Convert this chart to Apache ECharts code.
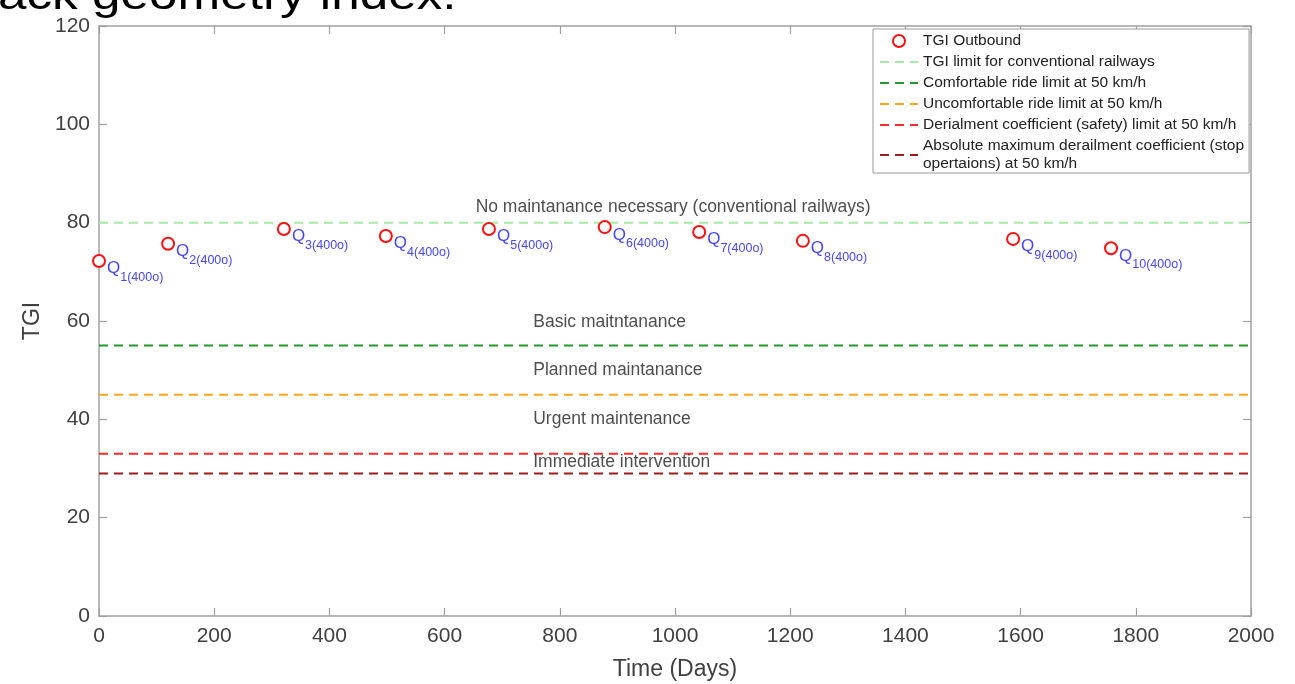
<!DOCTYPE html>
<html>
<head>
<meta charset="utf-8">
<script src="https://cdn.jsdelivr.net/npm/echarts@6/dist/echarts.min.js"></script>
<style>
html,body{margin:0;padding:0;background:#fff;}
#chart{width:1295px;height:684px;}
</style>
</head>
<body>
<div id="chart"></div>
<script>
// ---- data ----
const days = [0, 120, 321, 498, 677, 878, 1042, 1222, 1587, 1757];
const tgi = [72.2, 75.7, 78.7, 77.3, 78.7, 79.1, 78.1, 76.3, 76.7, 74.8];
const pointSubs = ['1(400o)','2(400o)','3(400o)','4(400o)','5(400o)','6(400o)','7(400o)','8(400o)','9(400o)','10(400o)'];
const limitNames = [
  'TGI limit for conventional railways',
  'Comfortable ride limit at 50 km/h',
  'Uncomfortable ride limit at 50 km/h',
  'Derialment coefficient (safety) limit at 50 km/h',
  'Absolute maximum derailment coefficient (stop\nopertaions) at 50 km/h'
];
const limitValues = [80, 55, 45, 33, 29];
const limitColors = ['#a6eaa6', '#22992a', '#ffa61a', '#ff2a2a', '#9e1c1c'];
const zoneLabels = [
  'No maintanance necessary (conventional railways)',
  'Basic maitntanance',
  'Planned maintanance',
  'Urgent maintenance',
  'Immediate intervention'
];
const zoneX = [653, 753, 753, 753, 753];
const zoneY = [83.2, 59.8, 50.0, 40.1, 31.3];
const xTicks = [0, 2000, 200];
const yTicks = [0, 120, 20];

const chart = echarts.init(document.getElementById('chart'));
const axisCol = '#a0a0a0';
const labelCol = '#404040';
const FONT = 'Liberation Sans, Arial, sans-serif';

const series = [];
series.push({
  name: 'TGI Outbound',
  type: 'scatter',
  data: days.map((d, i) => [d, tgi[i]]),
  symbol: 'emptyCircle',
  symbolSize: 12,
  itemStyle: {color: '#ff1010', borderColor: '#ff1010', borderWidth: 2.6, opacity: 1},
  z: 5,
  label: {
    show: true,
    position: 'right',
    distance: 1,
    offset: [0, 11],
    formatter: p => '{q|Q}{s|' + pointSubs[p.dataIndex] + '}',
    rich: {
      q: {fontSize: 17, color: '#4646ff', fontFamily: FONT, lineHeight: 16, verticalAlign: 'top'},
      s: {fontSize: 12.5, color: '#4646ff', fontFamily: FONT, lineHeight: 23.5, verticalAlign: 'bottom'}
    }
  }
});
limitNames.forEach((n, i) => {
  series.push({
    name: n,
    type: 'line',
    data: [[xTicks[0], limitValues[i]], [xTicks[1], limitValues[i]]],
    symbol: 'none',
    lineStyle: {color: limitColors[i], width: 2, type: [9, 6]},
    itemStyle: {color: limitColors[i]},
    silent: true,
    z: 3
  });
});
series.push({
  name: 'zones',
  type: 'scatter',
  xAxisIndex: 1,
  yAxisIndex: 1,
  data: zoneLabels.map((t, i) => ({name: t, value: [zoneX[i], zoneY[i]]})),
  symbolSize: 1,
  itemStyle: {color: 'rgba(0,0,0,0)'},
  silent: true,
  z: 6,
  label: {
    show: true, position: 'right', distance: 0,
    formatter: p => p.name,
    color: '#222', fontSize: 17.5, fontFamily: FONT
  }
});

const tickStyle = {show: true, inside: true, length: 8, lineStyle: {color: axisCol, width: 1.2}};
const lineStyleAx = {show: true, onZero: false, lineStyle: {color: axisCol, width: 1.5}};

chart.setOption({
  animation: false,
  backgroundColor: '#fff',
  textStyle: {fontFamily: FONT},
  graphic: [{
    type: 'text',
    left: -2, top: -24,
    scaleX: 1.22,
    style: {text: 'ack geometry index.', fontSize: 42, fontFamily: FONT, fill: '#000'}
  }],
  grid: {left: 99, right: 44, top: 26, bottom: 68, containLabel: false, outerBoundsMode: 'none'},
  legend: {
    data: [{name: 'TGI Outbound'}].concat(limitNames.map(n => ({name: n, itemStyle: {opacity: 0}}))),
    orient: 'vertical',
    left: 873, top: 29,
    padding: [3, 5, 0, 6],
    itemWidth: 38, itemHeight: 12, itemGap: 3,
    backgroundColor: '#fff',
    borderColor: '#999', borderWidth: 1,
    textStyle: {fontSize: 15.5, color: '#222', fontFamily: FONT, lineHeight: 18}
  },
  xAxis: [{
    type: 'value', position: 'bottom', min: xTicks[0], max: xTicks[1], interval: xTicks[2],
    name: 'Time (Days)', nameLocation: 'middle', nameGap: 42,
    nameTextStyle: {fontSize: 23, color: labelCol},
    axisLine: lineStyleAx,
    axisTick: tickStyle,
    axisLabel: {fontSize: 21, color: labelCol, margin: 10, formatter: v => String(v)},
    splitLine: {show: false}
  }, {
    type: 'value', position: 'top', min: xTicks[0], max: xTicks[1], interval: xTicks[2],
    axisLine: lineStyleAx,
    axisTick: tickStyle,
    axisLabel: {show: false},
    splitLine: {show: false}
  }],
  yAxis: [{
    type: 'value', position: 'left', min: yTicks[0], max: yTicks[1], interval: yTicks[2],
    name: 'TGI', nameLocation: 'middle', nameGap: 48, nameRotate: 90,
    nameTextStyle: {fontSize: 23, color: labelCol},
    axisLine: lineStyleAx,
    axisTick: tickStyle,
    axisLabel: {fontSize: 21, color: labelCol, margin: 9},
    splitLine: {show: false}
  }, {
    type: 'value', position: 'right', min: yTicks[0], max: yTicks[1], interval: yTicks[2],
    axisLine: lineStyleAx,
    axisTick: tickStyle,
    axisLabel: {show: false},
    splitLine: {show: false}
  }],
  series: series
});
</script>
</body>
</html>
